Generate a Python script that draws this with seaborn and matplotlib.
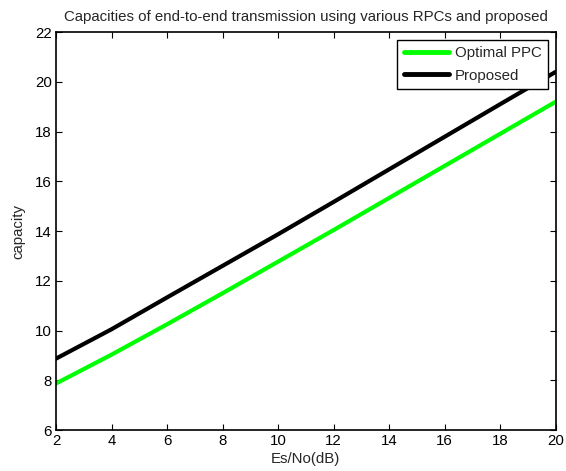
import pandas as pd
import matplotlib
matplotlib.use("Agg")
import matplotlib.pyplot as plt
import seaborn as sns

# values
es_no_db = [2, 4, 6, 8, 10, 12, 14, 16, 18, 20]
optimal_ppc = [7.87, 9.03, 10.25, 11.5, 12.77, 14.04, 15.33, 16.62, 17.91, 19.2]
proposed = [8.87, 10.05, 11.33, 12.6, 13.87, 15.17, 16.48, 17.79, 19.1, 20.4]
series_names = ["Optimal PPC", "Proposed"]
x_ticks = [2, 4, 6, 8, 10, 12, 14, 16, 18, 20]
y_ticks = [6, 8, 10, 12, 14, 16, 18, 20, 22]


def build_frame():
    rows = []
    for name, values in zip(series_names, [optimal_ppc, proposed]):
        for x, y in zip(es_no_db, values):
            rows.append({"Es/No(dB)": x, "capacity": y, "Series": name})
    return pd.DataFrame(rows)


def main():
    df = build_frame()

    sns.set_theme(style="ticks")
    plt.rcParams["font.family"] = ["Liberation Sans", "DejaVu Sans"]
    fs = 10.8

    fig = plt.figure(figsize=(5.66, 4.71), dpi=100)
    ax = fig.add_axes([0.0989, 0.087, 0.883, 0.845])

    sns.lineplot(
        data=df,
        x="Es/No(dB)",
        y="capacity",
        hue="Series",
        palette={"Optimal PPC": "#00ff00", "Proposed": "#000000"},
        linewidth=3,
        ax=ax,
    )

    ax.set_xlim(2, 20)
    ax.set_ylim(6, 22)
    ax.set_xticks(x_ticks)
    ax.set_yticks(y_ticks)
    ax.tick_params(
        direction="in", length=4, width=0.8, labelsize=fs,
        top=True, right=True, colors="black", pad=3,
    )
    for spine in ax.spines.values():
        spine.set_visible(True)
        spine.set_color("black")
        spine.set_linewidth(1.2)

    ax.set_title(
        "Capacities of end-to-end transmission using various RPCs and proposed",
        fontsize=fs, pad=8,
    )
    ax.set_xlabel("Es/No(dB)", fontsize=fs, labelpad=3)
    ax.set_ylabel("capacity", fontsize=fs, labelpad=7)

    leg = ax.legend(
        loc="upper right",
        fontsize=fs,
        frameon=True,
        fancybox=False,
        handlelength=3.0,
        handletextpad=0.4,
        borderpad=0.45,
        labelspacing=0.55,
        borderaxespad=0.5,
    )
    leg.get_frame().set_edgecolor("black")
    leg.get_frame().set_linewidth(1.0)
    leg.get_frame().set_alpha(1.0)
    for line in leg.get_lines():
        line.set_linewidth(3.5)

    fig.savefig("out.png", dpi=100)
    plt.close(fig)


if __name__ == "__main__":
    main()
